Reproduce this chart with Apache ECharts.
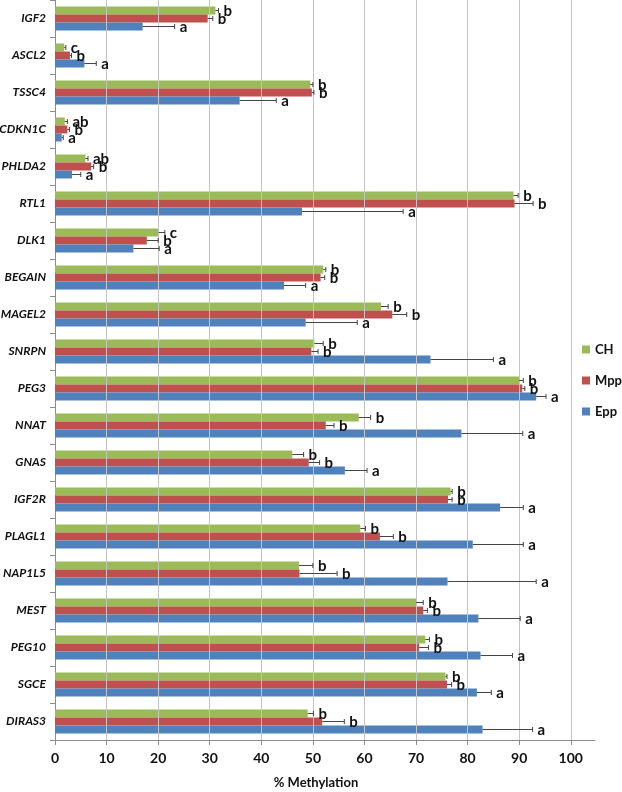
<!DOCTYPE html>
<html>
<head>
<meta charset="utf-8">
<script src="https://cdn.jsdelivr.net/npm/echarts@6/dist/echarts.min.js"></script>
<style>
html,body{margin:0;padding:0;background:#fff;}
#chart{width:622px;height:792px;}
</style>
</head>
<body>
<div id="chart"></div>
<script>
// Genes, top to bottom as shown
var genes = ['IGF2','ASCL2','TSSC4','CDKN1C','PHLDA2','RTL1','DLK1','BEGAIN','MAGEL2','SNRPN','PEG3','NNAT','GNAS','IGF2R','PLAGL1','NAP1L5','MEST','PEG10','SGCE','DIRAS3'];
var seriesNames = ['CH','Mpp','Epp'];
var chValues  = [31.1, 1.8, 49.5, 1.9, 5.9, 88.9, 20.1, 52.0, 63.2, 50.3, 90.0, 58.9, 46.0, 76.7, 59.2, 47.3, 70.0, 71.8, 75.7, 49.0];
var chErr     = [0.6, 0.3, 0.5, 0.5, 0.5, 0.9, 1.2, 0.5, 1.4, 1.7, 0.8, 2.3, 2.2, 0.3, 1.0, 2.7, 1.4, 0.8, 0.3, 1.1];
var chLetters = ['b','c','b','ab','ab','b','c','b','b','b','b','b','b','b','b','b','b','b','b','b'];
var mppValues = [29.6, 2.9, 49.8, 2.4, 7.0, 89.1, 17.8, 51.5, 65.4, 49.7, 90.6, 52.5, 49.2, 76.2, 63.0, 47.4, 71.4, 70.6, 76.0, 51.8];
var mppErr    = [1.0, 0.3, 0.4, 0.4, 0.5, 3.6, 2.2, 0.8, 2.8, 1.3, 0.5, 1.6, 2.1, 0.8, 2.6, 7.3, 0.8, 1.8, 0.9, 4.3];
var mppLetters= ['b','b','b','b','b','b','b','b','b','b','b','b','b','b','b','b','b','b','b','b'];
var eppValues = [17.0, 5.7, 35.8, 1.3, 3.3, 47.9, 15.2, 44.4, 48.6, 72.8, 93.3, 78.8, 56.2, 86.3, 81.0, 76.1, 82.1, 82.5, 81.8, 82.9];
var eppErr    = [6.2, 2.3, 7.1, 0.3, 1.7, 19.6, 5.0, 4.2, 10.0, 12.2, 1.9, 11.9, 4.3, 4.5, 9.8, 17.2, 8.1, 6.2, 2.8, 9.7];
var eppLetters= ['a','a','a','a','a','a','a','a','a','a','a','a','a','a','a','a','a','a','a','a'];
var xTicks = [0,10,20,30,40,50,60,70,80,90,100];
var xTitle = '% Methylation';

var colors = ['#9BBB59','#C0504D','#4F81BD'];
var values = [chValues, mppValues, eppValues];
var errs = [chErr, mppErr, eppErr];
var letters = [chLetters, mppLetters, eppLetters];

var BAR_W = 8;
var chart = echarts.init(document.getElementById('chart'), null, {renderer:'canvas'});

var series = [];
// gridlines at the tick values (none at the plot's right edge)
series.push({
  type: 'line', name: 'grid', data: [], silent: true, z: 0,
  markLine: {
    silent: true, symbol: 'none', label: {show: false},
    lineStyle: {color: '#c4c4c4', type: 'solid', width: 1},
    emphasis: {disabled: true},
    data: xTicks.filter(function(v){return v > 0;}).map(function(v){ return {xAxis: v}; })
  }
});
for (var s = 0; s < 3; s++) {
  series.push({
    name: seriesNames[s],
    type: 'bar',
    barWidth: BAR_W,
    barGap: '0%',
    itemStyle: {color: colors[s]},
    data: values[s],
    z: 2
  });
}
for (var s2 = 0; s2 < 3; s2++) {
  (function(si){
    var d = [];
    for (var i = 0; i < genes.length; i++) {
      d.push([values[si][i], i, errs[si][i], letters[si][i]]);
    }
    series.push({
      type: 'custom',
      name: seriesNames[si] + '_err',
      data: d,
      z: 5,
      silent: true,
      encode: {x: 0, y: 1},
      renderItem: function(params, api) {
        var v = api.value(0), c = api.value(1), e = api.value(2);
        var p0 = api.coord([v, c]);
        var p1 = api.coord([v + e, c]);
        var off = (si - 1) * BAR_W;
        var y = p0[1] + off;
        return {
          type: 'group',
          children: [
            {type: 'line', shape: {x1: p0[0], y1: y, x2: p1[0], y2: y}, style: {stroke: '#444', lineWidth: 1}},
            {type: 'line', shape: {x1: p1[0], y1: y - 2.5, x2: p1[0], y2: y + 2.5}, style: {stroke: '#444', lineWidth: 1}},
            {type: 'text', x: p1[0] + 5, y: y + 1, style: {text: letters[si][params.dataIndex], fill: '#111', font: 'bold 15px Lato', verticalAlign: 'middle', align: 'left'}}
          ]
        };
      }
    });
  })(s2);
}

var option = {
  animation: false,
  backgroundColor: '#fff',
  color: colors,
  title: {
    text: xTitle,
    left: 311, top: 771, textAlign: 'center',
    textStyle: {fontFamily: 'Lato', fontWeight: 'bold', fontSize: 13, color: '#111'}
  },
  legend: {
    data: seriesNames,
    orient: 'vertical',
    left: 577, top: 338,
    itemWidth: 8, itemHeight: 8, itemGap: 18,
    icon: 'rect',
    textStyle: {fontFamily: 'Lato', fontWeight: 'bold', fontSize: 13, color: '#111'}
  },
  grid: {left: 55, top: 0, right: 27, bottom: 52, containLabel: false, outerBoundsMode: 'none'},
  xAxis: {
    type: 'value', min: 0, max: 104.7, interval: 10,
    axisLine: {show: true, lineStyle: {color: '#8c8c8c'}},
    axisTick: {show: true, length: 5, lineStyle: {color: '#8c8c8c'}},
    splitLine: {show: false},
    axisLabel: {
      fontFamily: 'Lato', fontWeight: 'bold', fontSize: 14, color: '#111', margin: 11,
      showMaxLabel: false,
      formatter: function(v){ return xTicks.indexOf(v) >= 0 ? String(v) : ''; }
    }
  },
  yAxis: {
    type: 'category', data: genes, inverse: true,
    axisLine: {show: true, lineStyle: {color: '#8c8c8c'}},
    axisTick: {show: true, length: 5, lineStyle: {color: '#8c8c8c'}},
    axisLabel: {fontFamily: 'Lato', fontWeight: 'bold', fontStyle: 'italic', fontSize: 12, color: '#111', margin: 9}
  },
  series: series
};
chart.setOption(option);
</script>
</body>
</html>
